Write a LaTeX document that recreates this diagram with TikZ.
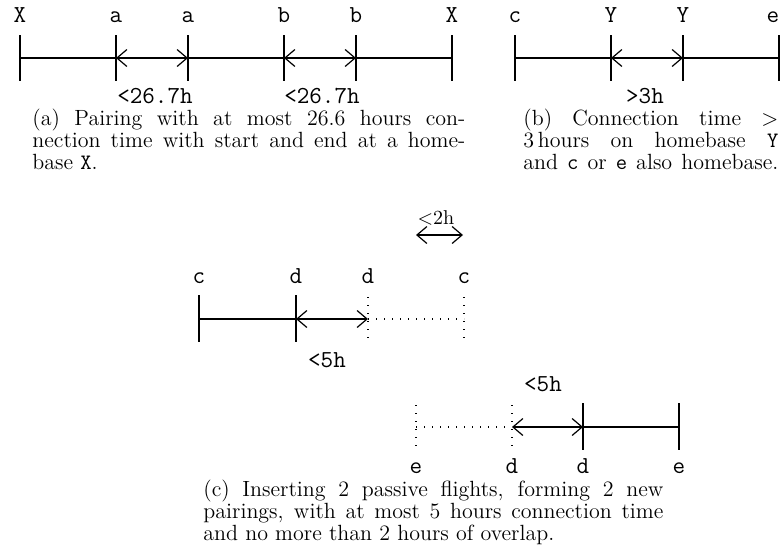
\documentclass[tikz,border=0pt]{standalone}
\usepackage{fontspec}
\usetikzlibrary{arrows.meta}
\begin{document}
\begin{tikzpicture}[x=0.5pt,y=-0.5pt,
  axis/.style={line width=0.6pt},
  tickline/.style={line width=0.6pt},
  dotline/.style={line width=0.6pt, dash pattern=on 0.6pt off 3.4pt},
  conn/.style={line width=0.6pt, {Straight Barb[length=5pt,width=8.5pt]}-{Straight Barb[length=5pt,width=8.5pt]}},
  lbl/.style={font=\fontsize{12.2}{14}\ttfamily, anchor=base, inner sep=0pt},
  rlbl/.style={font=\fontsize{10}{12}\selectfont, anchor=base, inner sep=0pt},
  capline/.style={font=\fontsize{11}{13}\selectfont, anchor=base west, inner sep=0pt}]
\useasboundingbox (0,0) rectangle (781,552);

% ---------- panel (a)
\foreach \n/\x in {a0/20,a1/116,a2/188,a3/284,a4/356,a5/452}
  \coordinate (\n) at (\x,58);
\foreach \n in {a0,a1,a2,a3,a4,a5}
  \draw[tickline] (\n) ++(0,-23) -- ++(0,46);
\draw[axis] (a0) -- (a1);
\draw[conn] (a1) -- (a2);
\draw[axis] (a2) -- (a3);
\draw[conn] (a3) -- (a4);
\draw[axis] (a4) -- (a5);
\node[lbl] (la0) at (20,22) {X};
\node[lbl] (la1) at (116,22) {a};
\node[lbl] (la2) at (188,22) {a};
\node[lbl] (la3) at (284,22) {b};
\node[lbl] (la4) at (356,22) {b};
\node[lbl] (la5) at (452,22) {X};
\node[lbl] (ta1) at (155,103) {<26.7h};
\node[lbl] (ta2) at (322,103) {<26.7h};
\node[capline] (capa1) at (32,125) {\makebox[216.5pt][s]{(a) Pairing with at most 26.6 hours con-}};
\node[capline] (capa2) at (32,147) {\makebox[216.5pt][s]{nection time with start and end at a home-}};
\node[capline] (capa3) at (32,169) {base \texttt{X}.};

% ---------- panel (b)
\foreach \n/\x in {b0/515,b1/611,b2/683,b3/779}
  \coordinate (\n) at (\x,58);
\foreach \n in {b0,b1,b2,b3}
  \draw[tickline] (\n) ++(0,-23) -- ++(0,46);
\draw[axis] (b0) -- (b1);
\draw[conn] (b1) -- (b2);
\draw[axis] (b2) -- (b3);
\node[lbl] (lb0) at (515,22) {c};
\node[lbl] (lb1) at (611,22) {Y};
\node[lbl] (lb2) at (683,22) {Y};
\node[lbl] (lb3) at (773,22) {e};
\node[lbl] (tb1) at (645,103) {>3h};
\node[capline] (capb1) at (523,125) {\makebox[127.5pt][s]{(b) Connection time $>$}};
\node[capline] (capb2) at (523,147) {\makebox[127.5pt][s]{3\,hours on homebase \texttt{Y}}};
\node[capline] (capb3) at (523,169) {\makebox[127.5pt][s]{and \texttt{c} or \texttt{e} also homebase.}};

% ---------- panel (c), upper pairing
\foreach \n/\x in {c0/199,c1/296,c2/368,c3/464}
  \coordinate (\n) at (\x,319);
\foreach \n in {c0,c1}
  \draw[tickline] (\n) ++(0,-24) -- ++(0,47);
\foreach \n in {c2,c3}
  \draw[dotline] (\n) ++(0,-22) -- ++(0,43);
\draw[axis] (c0) -- (c1);
\draw[conn] (c1) -- (c2);
\draw[dotline] (c2) -- (c3);
\node[lbl] (lc0) at (199,283) {c};
\node[lbl] (lc1) at (296,283) {d};
\node[lbl] (lc2) at (368,283) {d};
\node[lbl] (lc3) at (464,283) {c};
\node[lbl] (tc1) at (327,367) {<5h};

% overlap arrow
\coordinate (o1) at (416,235);
\coordinate (o2) at (463,235);
\draw[conn] (o1) -- (o2);
\node[rlbl] (to) at (436,224) {$<$2h};

% ---------- panel (c), lower pairing
\foreach \n/\x in {e0/416,e1/512,e2/583,e3/679}
  \coordinate (\n) at (\x,427);
\foreach \n in {e0,e1}
  \draw[dotline] (\n) ++(0,-22) -- ++(0,43);
\foreach \n in {e2,e3}
  \draw[tickline] (\n) ++(0,-24) -- ++(0,47);
\draw[dotline] (e0) -- (e1);
\draw[conn] (e1) -- (e2);
\draw[axis] (e2) -- (e3);
\node[lbl] (le0) at (416,473) {e};
\node[lbl] (le1) at (512,473) {d};
\node[lbl] (le2) at (583,473) {d};
\node[lbl] (le3) at (679,473) {e};
\node[lbl] (te1) at (543,391) {<5h};
\node[capline] (capc1) at (203,496) {\makebox[230pt][s]{(c) Inserting 2 passive flights, forming 2 new}};
\node[capline] (capc2) at (203,518) {\makebox[230pt][s]{pairings, with at most 5 hours connection time}};
\node[capline] (capc3) at (203,540) {and no more than 2 hours of overlap.};
\end{tikzpicture}
\end{document}
